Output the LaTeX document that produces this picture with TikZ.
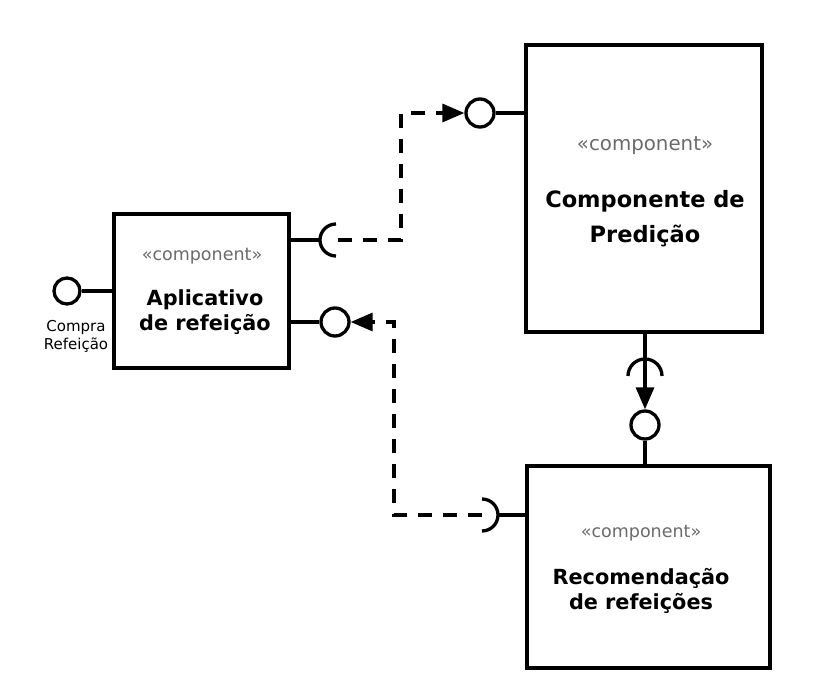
\documentclass[tikz,border=0pt]{standalone}
\usepackage{fontspec}
\setmainfont{DejaVu Sans}
\usetikzlibrary{arrows.meta}
\tikzset{
  comp/.style={draw, line width=3.3pt, fill=white},
  iface/.style={draw, line width=3.3pt, fill=white, circle, minimum size=28pt, inner sep=0pt},
  wire/.style={line width=3.3pt},
  dep/.style={line width=3.3pt, dash pattern=on 14pt off 11pt, -{Triangle[length=22pt,width=18pt]}},
  stereo/.style={text=black!58, font=\fontsize{17.5}{20}\selectfont},
  ttl/.style={font=\bfseries\fontsize{20.8}{25}\selectfont, align=center},
}
\begin{document}
\begin{tikzpicture}[x=1pt,y=-1pt]
\useasboundingbox (0,0) rectangle (825,692);
% boxes
\draw[comp] (114,214) rectangle (289,368);
\draw[comp] (526,45) rectangle (762,332);
\draw[comp] (527,466) rectangle (770,668);
\coordinate (Aw) at (114,291);
\coordinate (Ae1) at (289,240);
\coordinate (Ae2) at (289,322);
\coordinate (Bw) at (526,113);
\coordinate (Bs) at (645,332);
\coordinate (Cn) at (645,466);
\coordinate (Cw) at (527,515);
% texts
\node[stereo] (sa) at (202,256) {«component»};
\node[ttl] (ta) at (205,312) {Aplicativo\\de refeição};
\node[stereo, font=\fontsize{19.8}{22}\selectfont] (sb) at (645,146) {«component»};
\node[ttl, font=\bfseries\fontsize{22.5}{35}\selectfont] (tb) at (645,219) {Componente de\\Predição};
\node[stereo] (sc) at (641,533) {«component»};
\node[ttl] (tc) at (641,591) {Recomendação\\de refeições};
% left lollipop
\node[iface, minimum size=26pt] (la) at (67,291) {};
\draw[wire] (la) -- (Aw);
\node[font=\fontsize{15}{18}\selectfont, align=center] (lbl) at (76,336) {Compra\\Refeição};
% A right socket
\coordinate (sA) at (336,240);
\draw[wire] (Ae1) -- (321,240);
\draw[wire] (336,224) arc[start angle=270, end angle=90, radius=16];
% A right lollipop
\node[iface] (lA) at (335,322) {};
\draw[wire] (Ae2) -- (lA);
% B lollipop
\node[iface] (lB) at (480,113) {};
\draw[wire] (lB) -- (Bw);
% B bottom socket
\coordinate (sB) at (645,376);
\draw[wire] (Bs) -- (sB);
\draw[wire] (628,376) arc[start angle=180, end angle=360, radius=17];
% C top lollipop
\node[iface] (lC) at (645,425) {};
\draw[wire] (lC) -- (Cn);
% C left socket
\coordinate (sC) at (482,515);
\draw[wire] (Cw) -- (498,515);
\draw[wire] (482,499) arc[start angle=270, end angle=450, radius=16];
% dependencies
\coordinate (k1) at (401,240);
\coordinate (k2) at (401,113);
\draw[dep, shorten <=2pt] (sA) -- (k1) -- (k2) -- (lB);
\coordinate (k3) at (394,515);
\coordinate (k4) at (394,322);
\draw[dep] (sC) -- (k3) -- (k4) -- (lA);
\draw[line width=3.3pt, -{Triangle[length=22pt,width=18pt]}] (sB) -- (lC);
\end{tikzpicture}
\end{document}
